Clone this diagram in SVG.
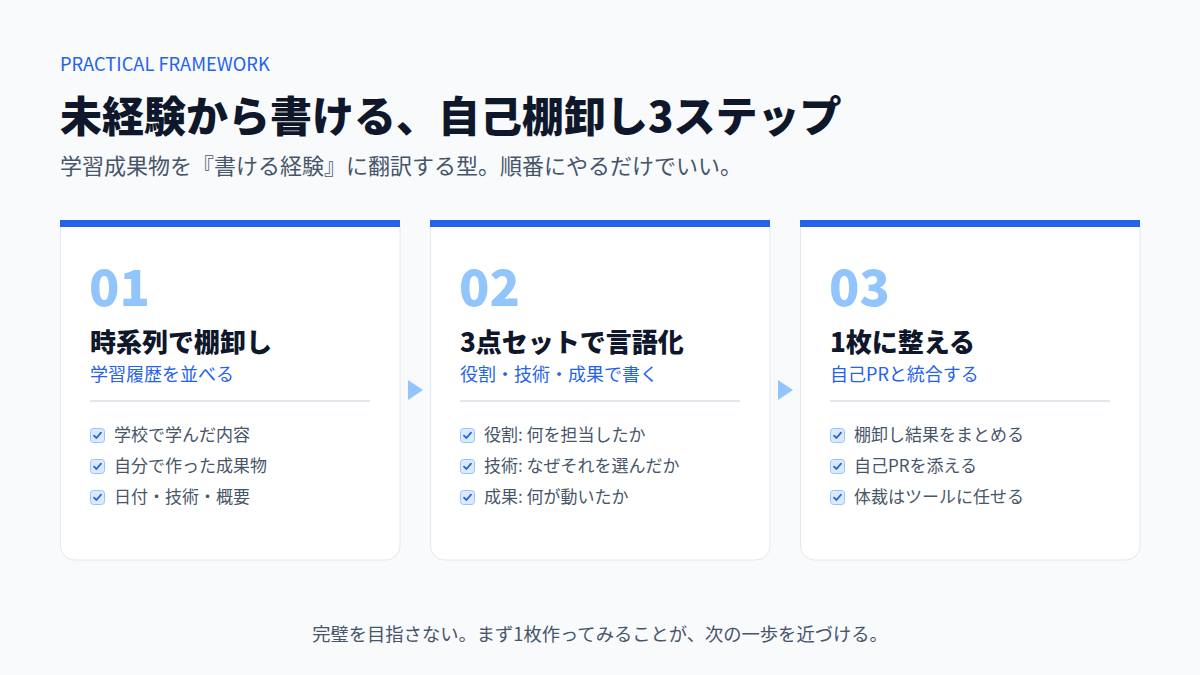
<svg xmlns="http://www.w3.org/2000/svg" width="1200" height="675" viewBox="0 0 1200 675">
<defs>
<style>
.jp{font-family:"Noto Sans CJK JP","Noto Sans",sans-serif}
.card{fill:#ffffff;stroke:#e2e8f0;stroke-width:1}
.bar{fill:#2563eb}
.num{font-size:50px;font-weight:800;fill:#93c5fd}
.ttl{font-size:26px;font-weight:800;fill:#0f172a}
.sub{font-size:18px;fill:#2563eb}
.div{stroke:#e2e8f0;stroke-width:2}
.item{font-size:17px;fill:#475569}
.arrow{fill:#93c5fd}
</style>
<g id="chk">
<rect x="0.5" y="0.5" width="14" height="14" rx="3" fill="#dbeafe" stroke="#93c5fd" stroke-width="1"/>
<path d="M4 7.6 L6.5 10 L11 4.6" fill="none" stroke="#2563eb" stroke-width="1.8" stroke-linecap="round" stroke-linejoin="round"/>
</g>
</defs>
<rect width="1200" height="675" fill="#f8fafc"/>
<g id="header" class="jp">
<text x="60" y="71" font-size="18.3" fill="#2563eb">PRACTICAL FRAMEWORK</text>
<text x="60" y="132" font-size="42" font-weight="800" fill="#0f172a">未経験から書ける、自己棚卸し3ステップ</text>
<text x="60" y="174" font-size="22" fill="#475569">学習成果物を『書ける経験』に翻訳する型。順番にやるだけでいい。</text>
</g>
<g id="card1" class="jp">
<path class="card" d="M60.5 226 V546 A14 14 0 0 0 74.5 560 H386 A14 14 0 0 0 400 546 V226"/>
<rect class="bar" x="60" y="220" width="340" height="7"/>
<text class="num" x="89" y="306">01</text>
<text class="ttl" x="90" y="352">時系列で棚卸し</text>
<text class="sub" x="90" y="381">学習履歴を並べる</text>
<line class="div" x1="90" y1="401" x2="370" y2="401"/>
<use href="#chk" x="90" y="428"/><text class="item" x="114" y="441">学校で学んだ内容</text>
<use href="#chk" x="90" y="459"/><text class="item" x="114" y="472">自分で作った成果物</text>
<use href="#chk" x="90" y="490"/><text class="item" x="114" y="503">日付・技術・概要</text>
</g>
<g id="card2" class="jp">
<path class="card" d="M430.5 226 V546 A14 14 0 0 0 444.5 560 H756 A14 14 0 0 0 770 546 V226"/>
<rect class="bar" x="430" y="220" width="340" height="7"/>
<text class="num" x="459" y="306">02</text>
<text class="ttl" x="460" y="352">3点セットで言語化</text>
<text class="sub" x="460" y="381">役割・技術・成果で書く</text>
<line class="div" x1="460" y1="401" x2="740" y2="401"/>
<use href="#chk" x="460" y="428"/><text class="item" x="484" y="441">役割: 何を担当したか</text>
<use href="#chk" x="460" y="459"/><text class="item" x="484" y="472">技術: なぜそれを選んだか</text>
<use href="#chk" x="460" y="490"/><text class="item" x="484" y="503">成果: 何が動いたか</text>
</g>
<g id="card3" class="jp">
<path class="card" d="M800.5 226 V546 A14 14 0 0 0 814.5 560 H1126 A14 14 0 0 0 1140 546 V226"/>
<rect class="bar" x="800" y="220" width="340" height="7"/>
<text class="num" x="829" y="306">03</text>
<text class="ttl" x="830" y="352">1枚に整える</text>
<text class="sub" x="830" y="381">自己PRと統合する</text>
<line class="div" x1="830" y1="401" x2="1110" y2="401"/>
<use href="#chk" x="830" y="428"/><text class="item" x="854" y="441">棚卸し結果をまとめる</text>
<use href="#chk" x="830" y="459"/><text class="item" x="854" y="472">自己PRを添える</text>
<use href="#chk" x="830" y="490"/><text class="item" x="854" y="503">体裁はツールに任せる</text>
</g>
<g id="connectors">
<polygon class="arrow" points="408,380 423,390 408,400"/>
<polygon class="arrow" points="778,380 793,390 778,400"/>
</g>
<g id="footer" class="jp">
<text x="600" y="641" font-size="18.3" fill="#475569" text-anchor="middle">完璧を目指さない。まず1枚作ってみることが、次の一歩を近づける。</text>
</g>
</svg>
